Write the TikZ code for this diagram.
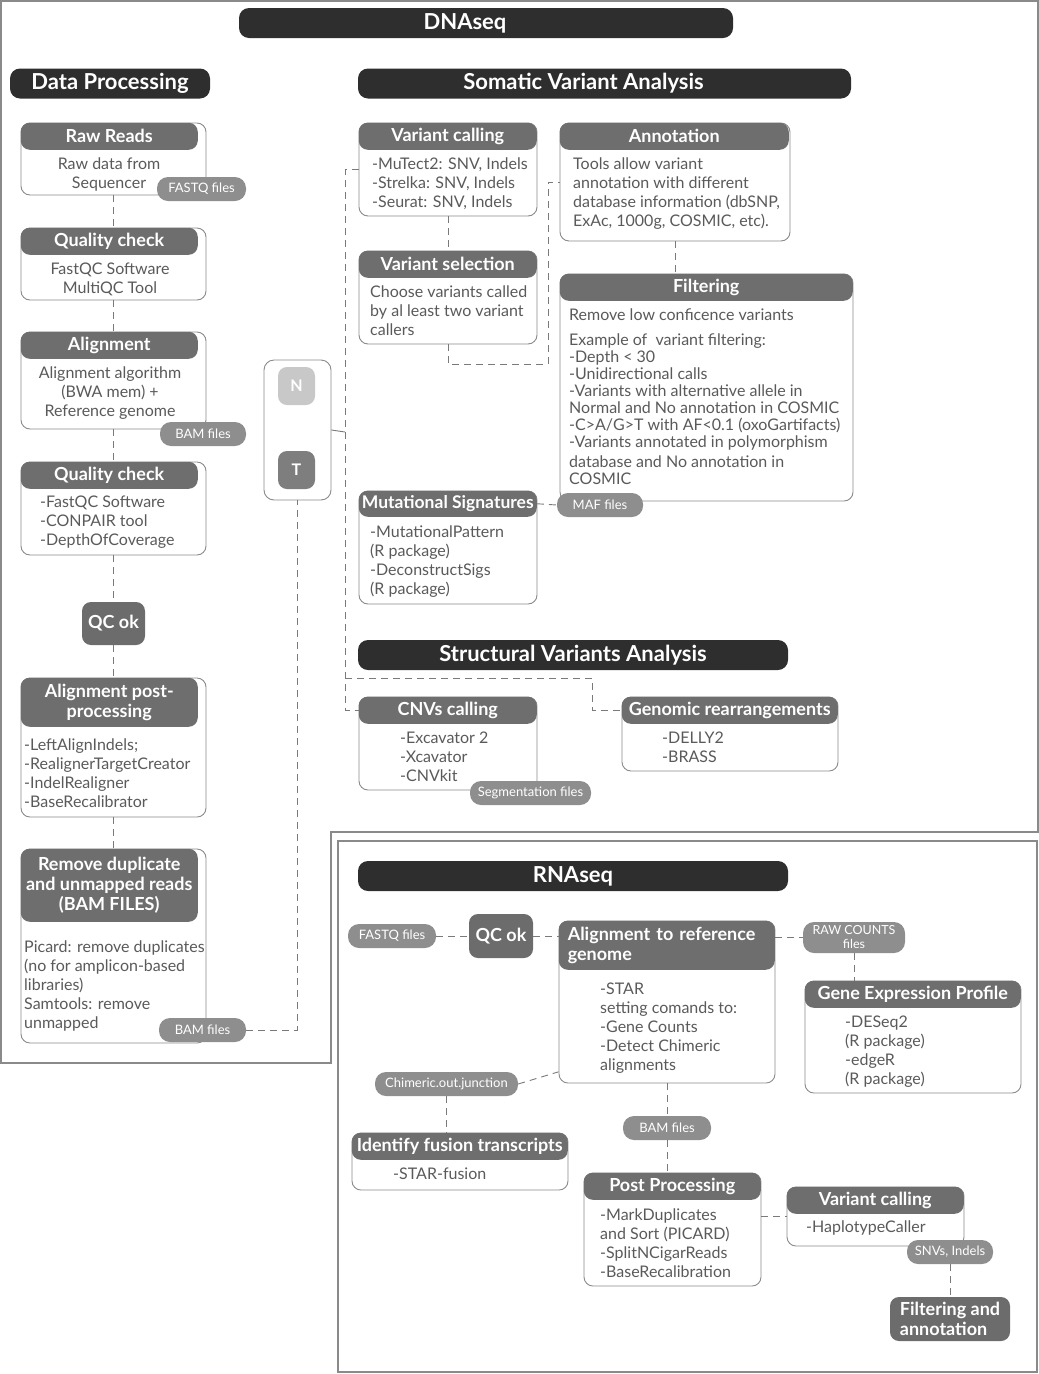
\documentclass[tikz,border=0pt]{standalone}
\usepackage{fontspec}
\setmainfont{Lato}
\usetikzlibrary{positioning, calc}
\definecolor{barblack}{HTML}{2E2E2E}
\definecolor{headgray}{HTML}{6E6E6E}
\definecolor{taggray}{HTML}{8E8E8E}
\definecolor{gategray}{HTML}{6C6C6C}
\definecolor{normalgray}{HTML}{C8C8C8}
\definecolor{tumorgray}{HTML}{7E7E7E}
\definecolor{edgegray}{HTML}{8A8A8A}
\definecolor{inkgray}{HTML}{5A5A5A}
\definecolor{linkgray}{HTML}{7A7A7A}

\begin{document}
\begin{tikzpicture}[x=1pt, y=-1pt,
  sectionbar/.style={rectangle, fill=barblack, rounded corners=10pt, text=white, font=\bfseries\fontsize{22}{26}\selectfont, minimum height=30pt, inner sep=0pt},
  panel/.style={rectangle, draw=edgegray, fill=white, rounded corners=9pt, line width=0.9pt, inner sep=0pt},
  panelhead/.style={rectangle, fill=headgray, rounded corners=9pt, text=white, font=\bfseries\fontsize{18}{20}\selectfont, anchor=north west, inner sep=0pt, align=center, minimum height=27pt},
  paneltext/.style={text=inkgray, font=\fontsize{16}{19}\selectfont, inner sep=0pt, anchor=north west, align=left, yshift=-2pt},
  filetag/.style={rectangle, fill=taggray, rounded corners=11pt, text=white, font=\fontsize{13}{14}\selectfont, inner sep=0pt, minimum height=24pt},
  gate/.style={rectangle, fill=gategray, rounded corners=9pt, text=white, font=\bfseries\fontsize{18}{21}\selectfont, inner sep=0pt},
  link/.style={draw=linkgray, line width=0.9pt, dash pattern=on 7pt off 5pt},
  tick/.style={draw=linkgray, line width=0.9pt},
  outline/.style={draw=edgegray, line width=1.3pt}
]
  \useasboundingbox (0,0) rectangle (1039,1374);
  \draw[outline] (1,1) -- (1038,1) -- (1038,832) -- (331,832) -- (331,1063) -- (1,1063) -- cycle;
  \draw[outline] (338,841) rectangle (1037,1372);

  \node[sectionbar, minimum width=494pt] (dna) at (486,23) {DNAseq\hspace*{42pt}};
  \node[sectionbar, minimum width=200pt] (dproc) at (110,83.5) {Data Processing};
  \node[sectionbar, minimum width=493pt] (sva) at (604.5,83.5) {Somatic Variant Analysis\hspace*{42pt}};
  \node[sectionbar, minimum width=430pt] (stva) at (573,655) {Structural Variants Analysis};
  \node[sectionbar, minimum width=430pt] (rna) at (573,876) {RNAseq};

  % data processing
  \node[panel, minimum width=185pt, minimum height=72pt] (rr) at (113.5,159) {};
  \node[panelhead, minimum width=177pt] (rrh) at (rr.north west) {Raw Reads};
  \node[paneltext, align=center, anchor=north] (rrt) at (109,156) {Raw data from\\Sequencer};
  \node[panel, minimum width=185pt, minimum height=72pt] (qc1) at (113.5,264) {};
  \node[panelhead, minimum width=177pt] (qc1h) at (qc1.north west) {Quality check};
  \node[paneltext, align=center, anchor=north] (qc1t) at (110,261) {FastQC Software\\MultiQC Tool};
  \node[panel, minimum width=185pt, minimum height=97pt] (aln) at (113.5,380.5) {};
  \node[panelhead, minimum width=177pt] (alnh) at (aln.north west) {Alignment};
  \node[paneltext, align=center, anchor=north] (alnt) at (110,365) {Alignment algorithm\\(BWA mem) +\\Reference genome};
  \node[panel, minimum width=185pt, minimum height=93pt] (qc2) at (113.5,508.5) {};
  \node[panelhead, minimum width=177pt] (qc2h) at (qc2.north west) {Quality check};
  \node[paneltext] (qc2t) at (40,494) {-FastQC Software\\-CONPAIR tool\\-DepthOfCoverage};
  \node[gate, minimum width=63pt, minimum height=43pt] (qcok) at (113.5,623.5) {QC ok};
  \node[panel, minimum width=185pt, minimum height=139pt] (app) at (113.5,747.5) {};
  \node[panelhead, minimum width=177pt, minimum height=49pt] (apph) at (app.north west) {Alignment post-\\processing};
  \node[paneltext] (appt) at (24,737) {-LeftAlignIndels;\\-RealignerTargetCreator\\-IndelRealigner\\-BaseRecalibrator};
  \node[panel, minimum width=185pt, minimum height=194pt] (rmd) at (113.5,946) {};
  \node[panelhead, minimum width=177pt, minimum height=73pt] (rmdh) at (rmd.north west) {Remove duplicate\\and unmapped reads\\(BAM FILES)};
  \node[paneltext] (rmdt) at (24,939) {Picard: remove duplicates\\(no for amplicon-based\\libraries)\\Samtools: remove\\unmapped};
  \node[filetag, minimum width=89pt] (fq1) at (201.5,189) {FASTQ files};
  \node[filetag, minimum width=86pt] (bam1) at (203,434) {BAM files};
  \node[filetag, minimum width=87pt] (bam2) at (202.5,1030) {BAM files};

  \node[panel, rounded corners=10pt, minimum width=67pt, minimum height=140pt] (nt) at (297.5,430) {};
  \node[gate, fill=normalgray, font=\bfseries\fontsize{16}{18}\selectfont, minimum width=37pt, minimum height=38pt] (nn) at (296.5,386) {N};
  \node[gate, fill=tumorgray, font=\bfseries\fontsize{16}{18}\selectfont, minimum width=37pt, minimum height=38pt] (tt) at (296.5,470) {T};

  % somatic variants
  \node[panel, minimum width=178pt, minimum height=93pt] (vc) at (448,169.5) {};
  \node[panelhead, minimum width=178pt] (vch) at (vc.north west) {Variant calling};
  \node[paneltext] (vct) at (372,156) {-MuTect2: SNV, Indels\\-Strelka: SNV, Indels\\-Seurat: SNV, Indels};
  \node[panel, minimum width=178pt, minimum height=93pt] (vs) at (448,297.5) {};
  \node[panelhead, minimum width=178pt] (vsh) at (vs.north west) {Variant selection};
  \node[paneltext] (vst) at (370,284) {Choose variants called\\by al least two variant\\callers};
  \node[panel, minimum width=230pt, minimum height=118pt] (ann) at (675,182) {};
  \node[panelhead, minimum width=229pt] (annh) at (ann.north west) {Annotation};
  \node[paneltext] (annt) at (573,156) {Tools allow variant\\annotation with different\\database information (dbSNP,\\ExAc, 1000g, COSMIC, etc).};
  \node[panel, minimum width=293pt, minimum height=227pt] (filt) at (706.5,387.5) {};
  \node[panelhead, minimum width=293pt] (filth) at (filt.north west) {Filtering};
  \node[paneltext, font=\fontsize{16}{17}\selectfont] (filtt) at (569,307) {Remove low conficence variants\\[8pt]Example of \ variant filtering:\\-Depth < 30\\-Unidirectional calls\\-Variants with alternative allele in\\Normal and No annotation in COSMIC\\-C>A/G>T with AF<0.1 (oxoGartifacts)\\-Variants annotated in polymorphism\\[3pt]database and No annotation in\\COSMIC};
  \node[panel, minimum width=178pt, minimum height=113pt] (ms) at (448,547.5) {};
  \node[panelhead, minimum width=178pt, minimum height=26pt, font=\bfseries\fontsize{17.5}{20}\selectfont] (msh) at (ms.north west) {Mutational Signatures};
  \node[paneltext] (mst) at (370,524) {-MutationalPattern\\(R package)\\-DeconstructSigs\\(R package)};
  \node[filetag, minimum width=86pt] (maf) at (600,505) {MAF files};

  % structural variants
  \node[panel, minimum width=178pt, minimum height=93pt] (cnv) at (448,743.5) {};
  \node[panelhead, minimum width=178pt] (cnvh) at (cnv.north west) {CNVs calling};
  \node[paneltext] (cnvt) at (400,730) {-Excavator 2\\-Xcavator\\-CNVkit};
  \node[filetag, minimum width=121pt] (seg) at (530.5,793) {Segmentation files};
  \node[panel, minimum width=216pt, minimum height=74pt] (gr) at (730,734) {};
  \node[panelhead, minimum width=216pt] (grh) at (gr.north west) {Genomic rearrangements};
  \node[paneltext] (grt) at (662,730) {-DELLY2\\-BRASS};

  % rnaseq
  \node[filetag, minimum width=88pt] (fq2) at (392,936) {FASTQ files};
  \node[gate, minimum width=64pt, minimum height=44pt] (qc3) at (501,936) {QC ok};
  \node[panel, minimum width=216pt, minimum height=162pt] (al) at (667,1002) {};
  \node[panelhead, minimum width=216pt, minimum height=49pt, align=left, text width=198pt, inner xsep=9pt] (alh) at (al.north west) {Alignment to reference\\genome};
  \node[paneltext] (alt) at (600,981) {-STAR\\setting comands to:\\-Gene Counts\\-Detect Chimeric\\alignments};
  \node[filetag, minimum width=102pt, minimum height=31pt, align=center, font=\fontsize{12.5}{14}\selectfont] (raw) at (854,937.5) {RAW COUNTS\\files};
  \node[panel, minimum width=216pt, minimum height=112pt] (gep) at (913,1037) {};
  \node[panelhead, minimum width=216pt] (geph) at (gep.north west) {Gene Expression Profile};
  \node[paneltext] (gept) at (845,1014) {-DESeq2\\(R package)\\-edgeR\\(R package)};
  \node[filetag, minimum width=143pt] (chim) at (446.5,1084) {Chimeric.out.junction};
  \node[panel, minimum width=216pt, minimum height=57pt] (fus) at (460,1161.5) {};
  \node[panelhead, minimum width=216pt] (fush) at (fus.north west) {Identify fusion transcripts};
  \node[paneltext] (fust) at (393,1166) {-STAR-fusion};
  \node[filetag, minimum width=88pt] (bam3) at (667,1128) {BAM files};
  \node[panel, minimum width=177pt, minimum height=113pt] (pp) at (672.5,1229.5) {};
  \node[panelhead, minimum width=177pt] (pph) at (pp.north west) {Post Processing};
  \node[paneltext] (ppt) at (600,1206) {-MarkDuplicates\\and Sort (PICARD)\\-SplitNCigarReads\\-BaseRecalibration};
  \node[panel, minimum width=177pt, minimum height=59pt] (vc2) at (875.5,1216.5) {};
  \node[panelhead, minimum width=177pt] (vc2h) at (vc2.north west) {Variant calling};
  \node[paneltext] (vc2t) at (806,1219) {-HaplotypeCaller};
  \node[filetag, minimum width=86pt] (snv) at (950,1252) {SNVs, Indels};
  \node[gate, minimum width=120pt, minimum height=44pt, align=left, font=\bfseries\fontsize{18}{20}\selectfont] (fa) at (950,1319) {Filtering and\\annotation};

  \coordinate (trunk) at (345,432);
  \coordinate (svfork) at (592,678);
  \coordinate (annbus) at (548,364);

  \draw[link] (rr.south) -- (qc1.north);
  \draw[link] (qc1.south) -- (aln.north);
  \draw[link] (aln.south) -- (qc2.north);
  \draw[link] (qc2.south) -- (qcok.north);
  \draw[link] (qcok.south) -- (app.north);
  \draw[link] (app.south) -- (rmd.north);
  \draw[link] (bam2.east) -| (nt.south);
  \draw[tick] (nt.east) -- (trunk);
  \draw[link] (vc.west) -- (vc.west -| trunk) -- (cnvh.west -| trunk) -- (cnvh.west);
  \draw[link] (svfork -| trunk) -- (svfork) |- (grh.west);
  \draw[link] (vc.south) -- (vs.north);
  \draw[link] (vs.south) |- (annbus) |- (ann.west);
  \draw[link] (ann.south) -- (ann.south |- filt.north);
  \draw[link] (msh.east) -- (maf.west);

  \draw[link] (fq2.east) -- (qc3.west);
  \draw[link] (qc3.east) -- (qc3.east -| al.west);
  \draw[link] (al.east |- raw.west) -- (raw.west);
  \draw[link] (raw.south) -- (raw.south |- gep.north);
  \draw[link] (chim.east) -- (al.west |- chim.north);
  \draw[link] (chim.south) -- (chim.south |- fus.north);
  \draw[link] (al.south) -- (bam3.north);
  \draw[link] (bam3.south) -- (bam3.south |- pp.north);
  \draw[link] (pp.east |- vc2.west) -- (vc2.west);
  \draw[link] (snv.south) -- (fa.north);
\end{tikzpicture}
\end{document}
